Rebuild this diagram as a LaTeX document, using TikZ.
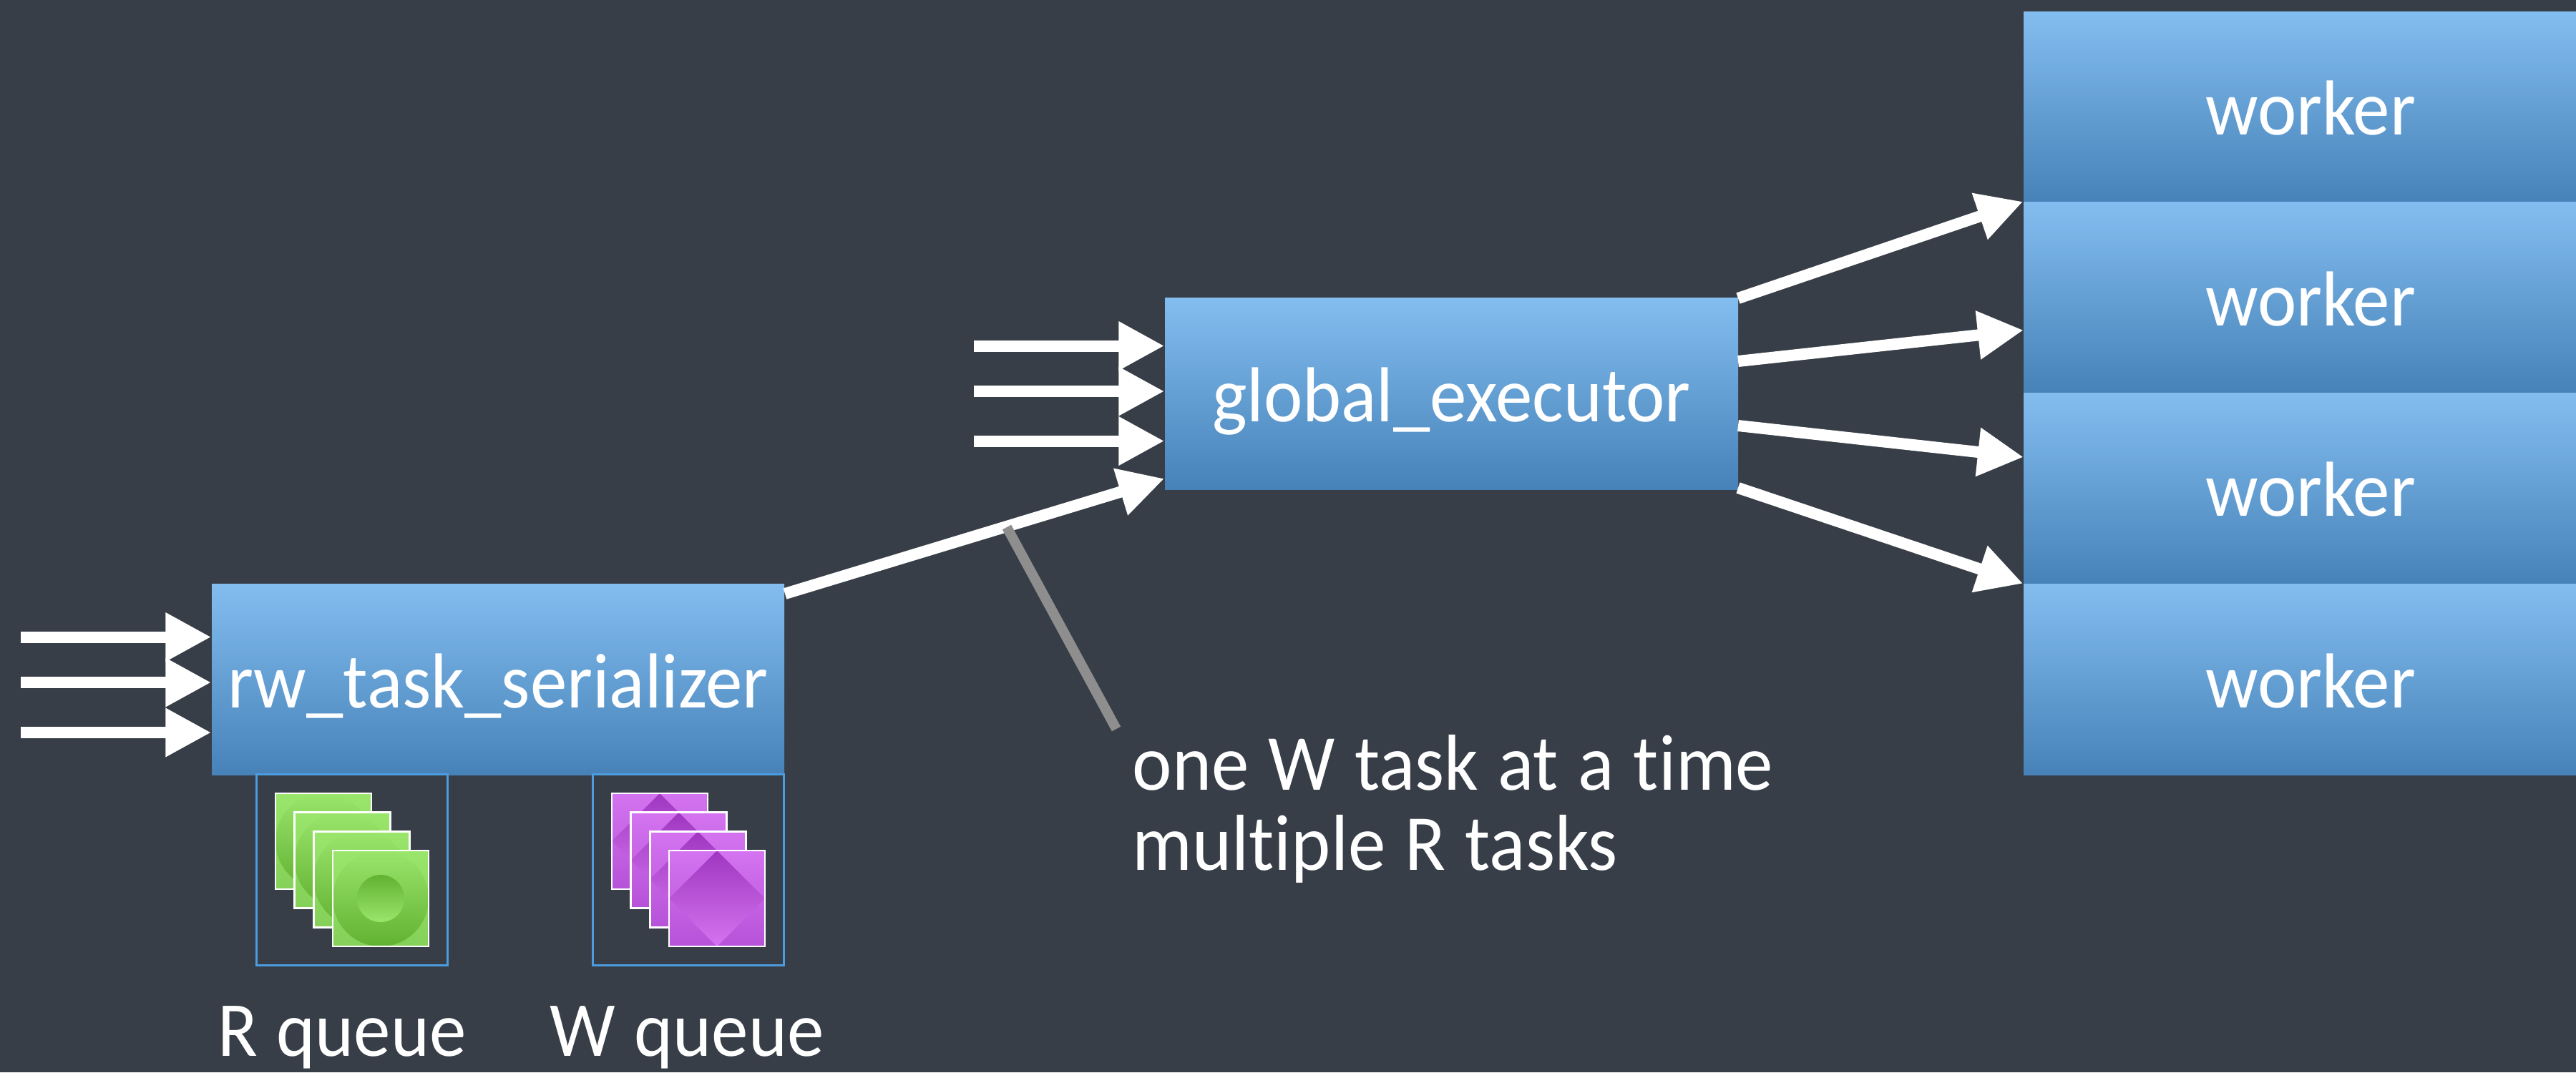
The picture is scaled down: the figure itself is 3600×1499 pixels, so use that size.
\documentclass[tikz,border=0pt]{standalone}
\usepackage{fontspec}
\usepackage{xcolor}
\usetikzlibrary{arrows.meta}
\setmainfont[FakeStretch=0.945,WordSpace=1.15,Ligatures=NoCommon]{Carlito}
\definecolor{slide}{HTML}{373E47}
\definecolor{boxtop}{HTML}{83BDF0}
\definecolor{boxbot}{HTML}{4682B8}
\definecolor{queueline}{HTML}{4C9CE0}
\definecolor{greenlight}{HTML}{9AE56C}
\definecolor{greenmid}{HTML}{84D058}
\definecolor{greendark}{HTML}{62B232}
\definecolor{purplelight}{HTML}{D474F0}
\definecolor{purplemid}{HTML}{B652D8}
\definecolor{purpledark}{HTML}{A036C0}
\definecolor{pointer}{HTML}{8E8E8E}

\begin{document}
\begin{tikzpicture}[x=0.1mm,y=-0.1mm]
  \tikzstyle{box}=[rectangle,top color=boxtop,bottom color=boxbot,inner sep=0pt,text=white,font=\fontsize{31}{32}\selectfont,text height=22.3pt,text depth=0pt]
  \tikzstyle{queue}=[rectangle,draw=queueline,line width=0.3mm,minimum width=26.7mm,minimum height=26.7mm,inner sep=0pt]
  \tikzstyle{caption}=[text=white,inner sep=0pt,anchor=base,font=\fontsize{31}{32}\selectfont]
  \tikzstyle{note}=[caption,anchor=base west,font=\fontsize{31.6}{32}\selectfont]
  \tikzstyle{flow}=[draw=white,line width=1.6mm,-{Triangle[length=6.4mm,width=6.4mm]}]
  \useasboundingbox (0,0) rectangle (3600,1499);
  \fill[slide] (0,0) rectangle (3600,1499);
  \node[box,minimum width=80mm,minimum height=26.7mm] (rw) at (696,950) {rw\_task\_serializer};
  \node[box,minimum width=80.1mm,minimum height=26.8mm] (global) at (2028.5,550) {global\_executor};
  \foreach \n/\y in {1/149.5,2/416,3/682.5,4/950}
    \node[box,minimum width=80.2mm,minimum height=26.7mm] (worker\n) at (3229,\y) {worker};
  \node[queue] (rqueue) at (492,1215.5) {};
  \node[queue] (wqueue) at (961.5,1215.5) {};
  \foreach \o in {0,26.7,53.3,80} {
    \begin{scope}[shift={(452+\o,1176+\o)}]
      \begin{scope}
        \clip (-67,-67) rectangle (67,67);
        \shade[top color=greenlight,bottom color=greenmid] (-67,-67) rectangle (67,67);
        \shade[top color=greenlight,bottom color=greendark] (0,0) circle (0.67cm);
        \shade[top color=greendark,bottom color=greenlight] (0,0) circle (0.33cm);
      \end{scope}
      \draw[white,line width=0.25mm] (-67,-67) rectangle (67,67);
    \end{scope}
    \begin{scope}[shift={(922+\o,1176+\o)}]
      \begin{scope}
        \clip (-67,-67) rectangle (67,67);
        \shade[top color=purplelight,bottom color=purplemid] (-67,-67) rectangle (67,67);
        \shade[top color=purpledark,bottom color=purplelight] (0,-67) -- (67,0) -- (0,67) -- (-67,0) -- cycle;
      \end{scope}
      \draw[white,line width=0.25mm] (-67,-67) rectangle (67,67);
    \end{scope}
  }
  \foreach \n/\y in {1/890.5,2/954,3/1024} {
    \coordinate (rin\n) at (29,\y);
    \draw[flow] (rin\n) -- (rw.west |- rin\n);
  }
  \foreach \n/\y in {1/483.5,2/547,3/616.5} {
    \coordinate (gin\n) at (1361,\y);
    \draw[flow] (gin\n) -- (global.west |- gin\n);
  }
  \coordinate (rwout) at (1097,830);
  \coordinate (gin4) at (1628,669);
  \draw[flow] (rwout) -- (global.west |- gin4);
  \coordinate (gout1) at (2429,417);
  \coordinate (gout2) at (2429,505);
  \coordinate (gout3) at (2429,595);
  \coordinate (gout4) at (2429,682);
  \coordinate (wend2) at (2828,461.5);
  \coordinate (wend3) at (2828,639);
  \draw[flow] (gout1) -- (worker2.north west);
  \draw[flow] (gout2) -- (wend2);
  \draw[flow] (gout3) -- (wend3);
  \draw[flow] (gout4) -- (worker4.north west);
  \coordinate (tipa) at (1407,737);
  \coordinate (tipb) at (1560,1019);
  \draw[pointer,line width=1.4mm] (tipa) -- (tipb);
  \node[caption] (rlabel) at (478,1476) {R queue};
  \node[caption] (wlabel) at (960,1476) {W queue};
  \node[note] (note1) at (1582,1104) {one W task at a time};
  \node[note] (note2) at (1582,1216) {multiple R tasks};
\end{tikzpicture}
\end{document}
